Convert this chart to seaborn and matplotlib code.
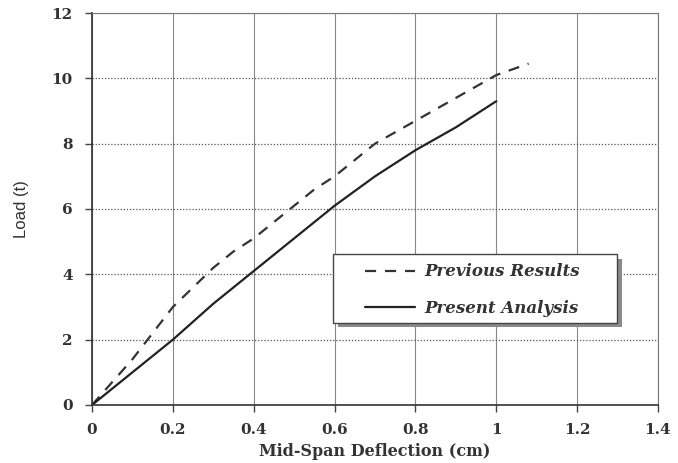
import matplotlib
matplotlib.use("Agg")
import matplotlib.pyplot as plt
import seaborn as sns
import pandas as pd
from matplotlib.lines import Line2D
from matplotlib.patches import Rectangle

prev_x = [0.0, 0.05, 0.1, 0.15, 0.2, 0.25, 0.3, 0.35, 0.4, 0.45, 0.5, 0.55, 0.6, 0.65, 0.7, 0.8, 0.9, 1.0, 1.08]
prev_y = [0.0, 0.7, 1.4, 2.2, 3.0, 3.6, 4.2, 4.7, 5.1, 5.6, 6.1, 6.6, 7.0, 7.5, 8.0, 8.7, 9.4, 10.1, 10.45]
pres_x = [0.0, 0.1, 0.2, 0.3, 0.4, 0.5, 0.6, 0.7, 0.8, 0.9, 1.0]
pres_y = [0.0, 1.0, 2.0, 3.1, 4.1, 5.1, 6.1, 7.0, 7.8, 8.5, 9.3]
series_names = ["Previous Results", "Present Analysis"]
x_ticks = [0, 0.2, 0.4, 0.6, 0.8, 1, 1.2, 1.4]
x_tick_labels = ["0", "0.2", "0.4", "0.6", "0.8", "1", "1.2", "1.4"]
y_ticks = [0, 2, 4, 6, 8, 10, 12]

sns.set_style("white")
plt.rcParams['font.family'] = ['DejaVu Serif']

df = pd.concat([
    pd.DataFrame({"x": prev_x, "y": prev_y, "s": series_names[0]}),
    pd.DataFrame({"x": pres_x, "y": pres_y, "s": series_names[1]}),
])

fig = plt.figure(figsize=(6.78, 4.63), dpi=100)
ax = fig.add_axes([0.1357, 0.1253, 0.9705 - 0.1357, 0.9719 - 0.1253])

sns.lineplot(data=df, x="x", y="y", hue="s", style="s",
             palette={series_names[0]: "#333333", series_names[1]: "#222222"},
             dashes={series_names[0]: (5, 4), series_names[1]: ""},
             linewidth=1.6, ax=ax, sort=False, estimator=None, legend=False)

ax.set_xlim(0, 1.4)
ax.set_ylim(0, 12)
ax.set_xticks(x_ticks)
ax.set_xticklabels(x_tick_labels)
ax.set_yticks(y_ticks)
for t in ax.get_xticklabels() + ax.get_yticklabels():
    t.set_fontweight("bold")
    t.set_fontsize(11)
    t.set_color("#333333")

ax.xaxis.grid(True, color="#888888", linewidth=0.8, linestyle="-")
ax.yaxis.grid(True, color="#555555", linewidth=0.9, linestyle=(0, (1, 1.5)))
ax.set_axisbelow(True)

for side in ["left", "bottom"]:
    ax.spines[side].set_color("#333333")
    ax.spines[side].set_linewidth(1.2)
for side in ["top", "right"]:
    ax.spines[side].set_color("#777777")
    ax.spines[side].set_linewidth(0.8)

ax.tick_params(axis="both", which="both", length=5, width=1, color="#444444", direction="out",
               bottom=True, left=True)
ax.tick_params(axis="y", pad=9)
ax.tick_params(axis="x", pad=8)

ax.set_xlabel("Mid-Span Deflection (cm)", fontsize=11.5, fontweight="bold", color="#333333", labelpad=4)
ax.set_ylabel("Load (t)", fontsize=12, color="#333333", labelpad=16, family="Liberation Sans")

# legend box with shadow
bx0, by0, bw, bh = 0.426, 0.210, 0.502, 0.174
ax.add_patch(Rectangle((bx0 + 0.008, by0 - 0.011), bw, bh, transform=ax.transAxes,
                       facecolor="#8a8a8a", edgecolor="none", zorder=5))
ax.add_patch(Rectangle((bx0, by0), bw, bh, transform=ax.transAxes,
                       facecolor="white", edgecolor="#444444", linewidth=1.0, zorder=6))

handles = [Line2D([], [], color="#333333", linestyle=(0, (5, 4)), linewidth=1.6),
           Line2D([], [], color="#222222", linestyle="-", linewidth=1.6)]
leg = ax.legend(handles, series_names, loc="upper left", bbox_to_anchor=(0.482, 0.361),
                frameon=False, handlelength=3.0, handletextpad=0.6,
                borderpad=0, labelspacing=1.15, borderaxespad=0,
                prop={"family": "DejaVu Serif", "style": "italic", "weight": "bold", "size": 12})
leg.set_zorder(7)
for t in leg.get_texts():
    t.set_color("#333333")

fig.savefig("out.png", dpi=100)
